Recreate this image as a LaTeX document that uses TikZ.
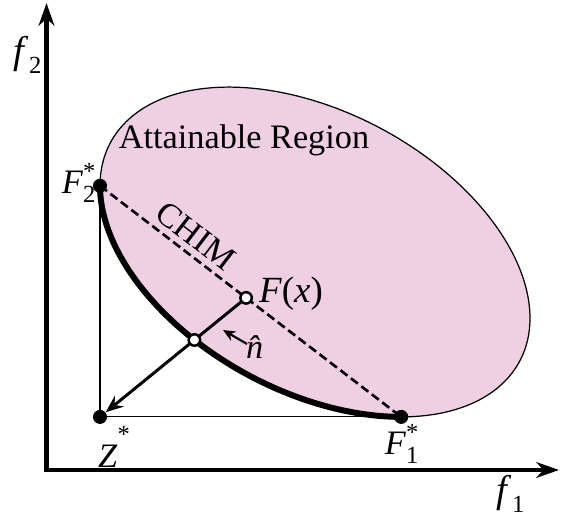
\documentclass[tikz,border=0pt]{standalone}
\usepackage{fontspec}
\setmainfont{Liberation Serif}
\usetikzlibrary{arrows.meta,calc,intersections}
\definecolor{regionpink}{RGB}{239,207,226}
\newcommand{\tsym}[3]{$\mbox{\textit{#1}}_{\mbox{\fontsize{14}{16}\selectfont #2}}^{\mbox{\fontsize{14}{16}\selectfont #3}}$}
\begin{document}
\begin{tikzpicture}[x=0.02cm, y=0.02cm, font=\fontsize{19.5}{23}\selectfont, line join=round, >=Stealth,
    dot/.style={circle, fill, inner sep=0pt, minimum size=8pt},
    hollow/.style={circle, draw, fill=white, line width=1.4pt, inner sep=0pt, minimum size=6.5pt},
    axis/.style={line width=2.8pt, line join=miter, {Stealth[length=13pt,width=9pt]}-{Stealth[length=13pt,width=9pt]}}]
    \useasboundingbox (0,0) rectangle (561,519);
    % attainable region (rotated ellipse)
    \fill[regionpink] plot[domain=0:360, samples=120, smooth] ({315+232*cos(\x)*cos(28.1)+140*sin(\x)*sin(28.1)}, {267-232*cos(\x)*sin(28.1)+140*sin(\x)*cos(28.1)}) -- cycle;
    \draw[line width=0.7pt] plot[domain=0:360, samples=120, smooth] ({315+232*cos(\x)*cos(28.1)+140*sin(\x)*sin(28.1)}, {267-232*cos(\x)*sin(28.1)+140*sin(\x)*cos(28.1)}) -- cycle;
    \path
    (46.5,49) coordinate (O)
    (46.5,516) coordinate (ytop)
    (559,49) coordinate (xend)
    (100,333.2) coordinate (F2)
    (401.2,102.1) coordinate (F1)
    (F2 |- F1) coordinate (Z)
    ($(F2)!0.485!(F1)$) coordinate (Fx)
    ;
    \draw[line width=0.6pt] (F2) -- (Z) -- (F1);
    % pareto front
    \draw[line width=3.4pt, name path=front] plot[domain=197.86:311.5, samples=60, smooth] ({315+232*cos(\x)*cos(28.1)+140*sin(\x)*sin(28.1)}, {267-232*cos(\x)*sin(28.1)+140*sin(\x)*cos(28.1)});
    \draw[line width=1.5pt, dash pattern=on 5pt off 2.5pt] (F2) -- (F1) node[sloped, above, pos=0.28] (chim) {CHIM};
    \path[name path=ray] (Fx) -- (Z);
    \path[name intersections={of=front and ray, by=foot}];
    \node[dot] (f2star) at (F2) {};
    \node[dot] (f1star) at (F1) {};
    \node[dot] (zstar) at (Z) {};
    \draw[line width=1.7pt] (Fx) -- (foot);
    \draw[line width=1.7pt, -{Stealth[length=10pt,width=8pt,inset=3.5pt]}] (foot) -- (zstar);
    \node[hollow] (fx) at (Fx) {};
    \node[hollow] (ft) at (foot) {};
    \path (247,175) coordinate (ntail) (223,189) coordinate (nhead);
    \draw[line width=1.2pt, -{Stealth[length=7pt,width=6pt]}] (ntail) -- (nhead);
    % labels
    \node (region) at (244,379) {Attainable Region};
    \node (fxlabel) at (291,225) {\fontsize{21}{24}\selectfont\textit{F}(\textit{x})};
    \node (nlabel) at (261,172) {\textit{\^n}};
    \node (f2label) at (79,336) {\tsym{F}{2}{*}};
    \node (f1label) at (402,75) {\tsym{F}{1}{*}};
    \node (zlabel) at (114,72) {\textit{Z}\raisebox{14pt}{\fontsize{14}{16}\selectfont *}};
    \node (yname) at (28,464) {\fontsize{22}{24}\selectfont\tsym{f}{2}{}};
    \node (xname) at (511,25) {\fontsize{22}{24}\selectfont\tsym{f}{1}{}};
    % axes
    \draw[axis] (ytop) |- (xend);
\end{tikzpicture}
\end{document}
